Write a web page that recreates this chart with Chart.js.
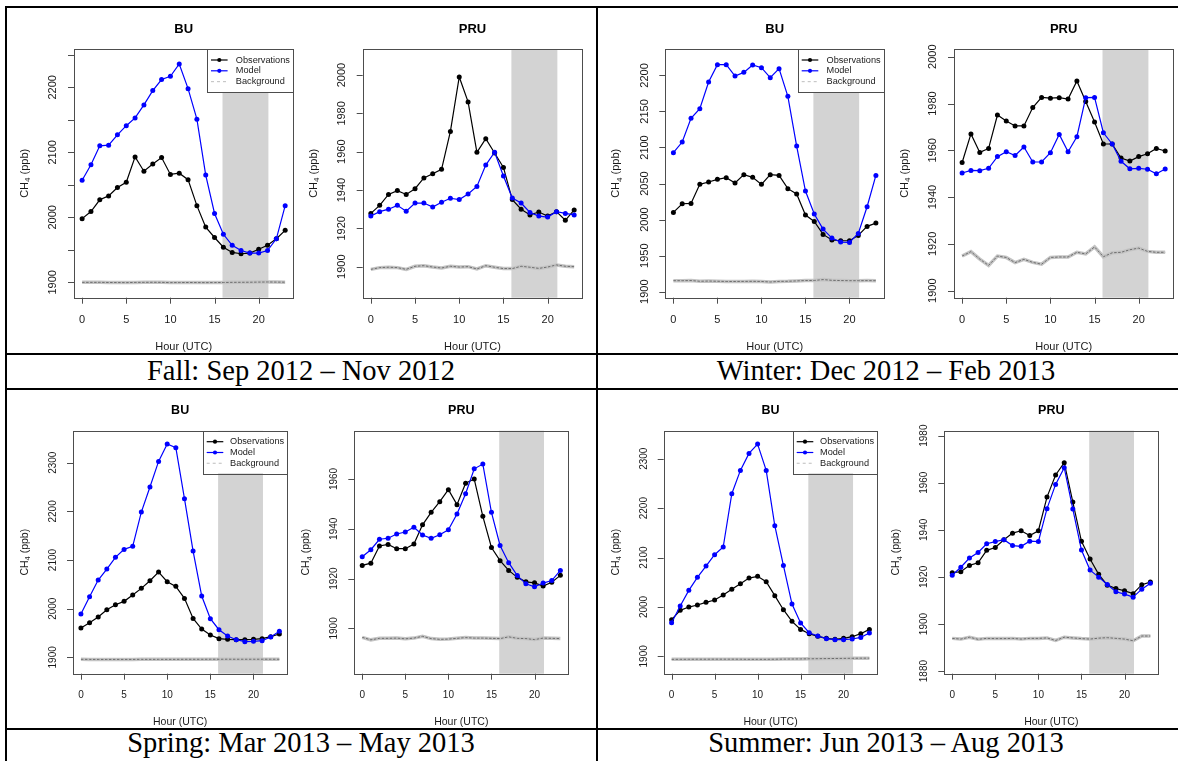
<!DOCTYPE html>
<html>
<head>
<meta charset="utf-8">
<title>CH4 diurnal cycles at BU and PRU by season</title>
<script src="https://cdn.jsdelivr.net/npm/chart.js@4.4.1/dist/chart.umd.min.js"></script>
<style>
  body { margin: 0; background: #fff; }
  #figure { position: relative; width: 1178px; height: 761px; overflow: hidden; background: #fff; }
  .rule { position: absolute; background: #000; }
  .caption {
    position: absolute;
    font-family: 'Liberation Serif', 'Times New Roman', serif;
    font-size: 28.5px; line-height: 28.5px;
    text-align: center; color: #000; white-space: nowrap;
  }
  canvas { position: absolute; }
</style>
</head>
<body>
<div id="figure">
  <div class="rule" style="left:5px; top:6px; width:1174px; height:2px;"></div>
  <div class="rule" style="left:5px; top:6px; width:2px; height:760px;"></div>
  <div class="rule" style="left:596px; top:6px; width:2px; height:760px;"></div>
  <div class="rule" style="left:5px; top:353px; width:1174px; height:2px;"></div>
  <div class="rule" style="left:5px; top:388px; width:1174px; height:2px;"></div>
  <div class="rule" style="left:5px; top:728px; width:1174px; height:2px;"></div>

  <div class="caption" style="left:6px; top:356.6px; width:590px;">Fall: Sep 2012 – Nov 2012</div>
  <div class="caption" style="left:597px; top:356.6px; width:578px;">Winter: Dec 2012 – Feb 2013</div>
  <div class="caption" style="left:6px; top:729.4px; width:590px;">Spring: Mar 2013 – May 2013</div>
  <div class="caption" style="left:597px; top:729.4px; width:578px;">Summer: Jun 2013 – Aug 2013</div>
</div>

<script>
// ---- Data (CH4, ppb) ----
var HOURS = [0, 1, 2, 3, 4, 5, 6, 7, 8, 9, 10, 11, 12, 13, 14, 15, 16, 17, 18, 19, 20, 21, 22, 23];
var X_RANGE = [-0.92, 23.92];
var X_TICKS = [0, 5, 10, 15, 20];
var NIGHT_SHADE = [15.9, 21.1];
var LEGEND_LABELS = ['Observations', 'Model', 'Background'];
var X_TITLE = 'Hour (UTC)';

var FALL_BU_OBS = [1998, 2009, 2027, 2033, 2046, 2054, 2093, 2071, 2082, 2092, 2066, 2068, 2058, 2018, 1985, 1969, 1954, 1946, 1944, 1945, 1951, 1957, 1967, 1980];
var FALL_BU_MODEL = [2057, 2081, 2110, 2111, 2127, 2141, 2153, 2173, 2195, 2212, 2217, 2236, 2198, 2151, 2065, 2006, 1974, 1957, 1949, 1945, 1945, 1949, 1967, 2018];
var FALL_BU_BG = [1900, 1900, 1900, 1899.8, 1899.7, 1899.6, 1899.9, 1900, 1900.1, 1900, 1899.6, 1899.7, 1899.8, 1899.7, 1899.6, 1899.7, 1899.8, 1900, 1900.1, 1900.2, 1900.4, 1900.6, 1900.4, 1900.3];
var FALL_BU_Y_RANGE = [1876.4, 2259];
var FALL_BU_Y_TICKS = [1900, 1950, 2000, 2050, 2100, 2150, 2200, 2250];
var FALL_BU_Y_LABELS = ['1900', '', '2000', '', '2100', '', '2200', ''];

var FALL_PRU_OBS = [1927.8, 1932, 1937.7, 1939.7, 1937.7, 1940.7, 1946.3, 1948.5, 1950.8, 1970.6, 1999, 1986, 1959.7, 1966.8, 1959.3, 1951.8, 1935, 1930, 1927, 1928.5, 1926.4, 1928.7, 1924.2, 1929.6];
var FALL_PRU_MODEL = [1926.4, 1928.7, 1930, 1932, 1928.9, 1933.2, 1933.2, 1931.1, 1933.6, 1935.7, 1935, 1937.9, 1941.9, 1953, 1959.7, 1947.3, 1935.8, 1933.2, 1928.3, 1926.4, 1925.9, 1928.7, 1927.8, 1927];
var FALL_PRU_BG = [1898.6, 1899.5, 1899.7, 1899.5, 1898.6, 1900.2, 1900.5, 1899.8, 1899.3, 1900.2, 1899.8, 1900, 1898.8, 1900.5, 1899.7, 1899, 1899, 1900.2, 1899.7, 1899.1, 1899.8, 1900.9, 1900.2, 1900];
var FALL_PRU_Y_RANGE = [1883.8, 2013.6];
var FALL_PRU_Y_TICKS = [1900, 1920, 1940, 1960, 1980, 2000];

var WINTER_BU_OBS = [2010, 2022, 2022.5, 2048.9, 2052.1, 2055.8, 2058.1, 2050.7, 2062.3, 2058.6, 2048.9, 2062.3, 2061.3, 2042.9, 2035.5, 2006.3, 1997.5, 1979.5, 1971.7, 1970.7, 1970.7, 1978.1, 1990.6, 1995.2];
var WINTER_BU_MODEL = [2092.8, 2107.6, 2140.4, 2153.8, 2190.8, 2214.8, 2214.8, 2199.1, 2204.2, 2214.4, 2210.7, 2196.8, 2209.3, 2170.9, 2102, 2039.6, 2007.7, 1986.9, 1974.4, 1968.9, 1968.4, 1980.9, 2017.9, 2061.3];
var WINTER_BU_BG = [1915.3, 1915.3, 1915.5, 1914.5, 1914.8, 1914.5, 1914.2, 1914.2, 1914.3, 1914.4, 1914.2, 1913.5, 1914.3, 1914.5, 1915, 1915.5, 1915.6, 1916.8, 1915.8, 1915.5, 1915.3, 1915.3, 1915.4, 1915.3];
var WINTER_BU_Y_RANGE = [1891.7, 2236.6];
var WINTER_BU_Y_TICKS = [1900, 1950, 2000, 2050, 2100, 2150, 2200];

var WINTER_PRU_OBS = [1954.8, 1967, 1959.1, 1960.8, 1975.1, 1972.5, 1970.4, 1970.4, 1978.3, 1982.6, 1982.3, 1982.5, 1981.9, 1989.6, 1980.9, 1972.1, 1962.7, 1962.7, 1956.7, 1955.4, 1957.3, 1958.5, 1960.8, 1959.7];
var WINTER_PRU_MODEL = [1950.3, 1951.4, 1951.3, 1952.3, 1957.3, 1959.4, 1957.8, 1961.4, 1955, 1955, 1959, 1966.8, 1959.4, 1965.8, 1982.5, 1982.6, 1967.5, 1962.7, 1955.3, 1952.1, 1952.3, 1951.9, 1950, 1952];
var WINTER_PRU_BG = [1914.8, 1916.7, 1913.5, 1910.8, 1914.8, 1914.2, 1912, 1913.4, 1912.1, 1911.3, 1914.2, 1914.4, 1914.4, 1916.4, 1915.7, 1918.7, 1914.5, 1916.2, 1916.4, 1917.5, 1918.2, 1916.8, 1916.4, 1916.4];
var WINTER_PRU_Y_RANGE = [1897, 2003.3];
var WINTER_PRU_Y_TICKS = [1900, 1920, 1940, 1960, 1980, 2000];

var SPRING_BU_OBS = [1960.3, 1971.2, 1982.9, 1997.9, 2008.2, 2015.1, 2028.1, 2041.8, 2057.5, 2075.3, 2055.5, 2045.9, 2021.2, 1980.1, 1958.2, 1945.9, 1938.4, 1937, 1936.3, 1936.3, 1937, 1938.4, 1942.5, 1947.9];
var SPRING_BU_MODEL = [1989, 2024.7, 2058.9, 2081.5, 2105.5, 2121.9, 2128.1, 2198.6, 2250, 2302.7, 2338.4, 2330.8, 2226, 2118.5, 2026, 1979.5, 1956.8, 1943.8, 1936.3, 1932.2, 1932.9, 1934.2, 1941.8, 1953.4];
var SPRING_BU_BG = [1896, 1895.8, 1895.7, 1895.7, 1895.8, 1895.8, 1895.8, 1895.9, 1895.9, 1895.9, 1895.9, 1895.9, 1896, 1896, 1896, 1896.1, 1896.1, 1896.2, 1896.1, 1896.1, 1896.1, 1896.2, 1896.1, 1896.1];
var SPRING_BU_Y_RANGE = [1866.4, 2365.8];
var SPRING_BU_Y_TICKS = [1900, 2000, 2100, 2200, 2300];

var SPRING_PRU_OBS = [1925.3, 1926.2, 1933.1, 1933.7, 1932, 1932, 1933.9, 1941.6, 1946.6, 1950.9, 1955.7, 1949.7, 1958.3, 1960, 1945, 1932.5, 1927.2, 1923.3, 1920.5, 1918.7, 1918.3, 1917, 1918.5, 1921.3];
var SPRING_PRU_MODEL = [1928.8, 1931.6, 1935.8, 1936.2, 1937.9, 1938.7, 1940.6, 1937.5, 1936.2, 1937.6, 1939.6, 1945.9, 1954.1, 1964.1, 1966, 1946.6, 1933.3, 1926.4, 1921.2, 1917.9, 1916.7, 1918.2, 1919.2, 1923.3];
var SPRING_PRU_BG = [1896.4, 1895.4, 1896, 1896, 1896.1, 1895.8, 1896.1, 1896.8, 1895.9, 1895.6, 1895.7, 1896, 1896.3, 1896.1, 1896.1, 1896, 1895.9, 1896.6, 1896, 1895.9, 1895.5, 1896.1, 1896, 1895.9];
var SPRING_PRU_Y_RANGE = [1881.8, 1979.4];
var SPRING_PRU_Y_TICKS = [1900, 1920, 1940, 1960];

var SUMMER_BU_OBS = [1974.2, 1993.1, 1999.8, 2003.9, 2009.3, 2014, 2024.1, 2035.6, 2047.1, 2058.5, 2061.9, 2051.1, 2022.8, 1994.4, 1970.8, 1954.6, 1945.9, 1940.5, 1936.4, 1934.4, 1936.4, 1939.8, 1945.9, 1954.6];
var SUMMER_BU_MODEL = [1968.1, 2001.9, 2033.6, 2059.9, 2082.8, 2105.7, 2121.2, 2229.2, 2276.4, 2310.8, 2329.7, 2276.4, 2164.4, 2084.1, 2005.9, 1967.5, 1947.9, 1941.1, 1935.8, 1933.7, 1933.7, 1935.1, 1938.4, 1947.2];
var SUMMER_BU_BG = [1894, 1894, 1894.1, 1894.2, 1894.2, 1894.3, 1894.3, 1894.3, 1894.2, 1894, 1894, 1894, 1894.2, 1894.4, 1894.6, 1894.8, 1895, 1895.3, 1895.5, 1895.7, 1895.9, 1896.1, 1896.3, 1896.4];
var SUMMER_BU_Y_RANGE = [1864.9, 2356.7];
var SUMMER_BU_Y_TICKS = [1900, 2000, 2100, 2200, 2300];

var SUMMER_PRU_OBS = [1921.8, 1922.2, 1924.9, 1926, 1931.3, 1932.5, 1935.8, 1938.6, 1939.6, 1937.6, 1939.6, 1953.9, 1963.3, 1968.5, 1951.8, 1935.1, 1927.6, 1921.1, 1916.5, 1915.1, 1914.1, 1912.9, 1916.7, 1917.8];
var SUMMER_PRU_MODEL = [1920.7, 1924.1, 1928, 1930.4, 1934.1, 1935, 1935.8, 1933.3, 1933, 1935.2, 1935, 1949, 1959.3, 1966.4, 1948.8, 1931.4, 1922.9, 1919.9, 1916.8, 1913.7, 1912.7, 1911.4, 1914.8, 1917.3];
var SUMMER_PRU_BG = [1893.9, 1893.6, 1894.4, 1893.5, 1893.9, 1893.8, 1893.8, 1893.9, 1893.6, 1893.9, 1893.9, 1894.1, 1893, 1894.4, 1894.1, 1893.8, 1893.6, 1894, 1894.2, 1893.9, 1893.6, 1892.9, 1894.9, 1894.9];
var SUMMER_PRU_Y_RANGE = [1878.9, 1982.1];
var SUMMER_PRU_Y_TICKS = [1880, 1900, 1920, 1940, 1960, 1980];

// ---- Layout ----
var FONT = "'Liberation Sans', Arial, Helvetica, sans-serif";
var OBS_COLOR = '#000000';
var MODEL_COLOR = '#0000ff';
var BG_LEGEND_COLOR = '#c8c8c8';

// canvas: [left, top, width, height], box: [left, top, right, bottom] in page px
var PANELS = [
  { site: 'BU',  obs: FALL_BU_OBS, model: FALL_BU_MODEL, bg: FALL_BU_BG, yRange: FALL_BU_Y_RANGE, yTicks: FALL_BU_Y_TICKS, yLabels: FALL_BU_Y_LABELS, row: 0, legend: true,
    canvas: [7, 9, 293, 344], box: [74, 49, 293.3, 297.7] },
  { site: 'PRU', obs: FALL_PRU_OBS, model: FALL_PRU_MODEL, bg: FALL_PRU_BG, yRange: FALL_PRU_Y_RANGE, yTicks: FALL_PRU_Y_TICKS, row: 0,
    canvas: [300, 9, 295, 344], box: [362.7, 49, 582.3, 297.7] },
  { site: 'BU',  obs: WINTER_BU_OBS, model: WINTER_BU_MODEL, bg: WINTER_BU_BG, yRange: WINTER_BU_Y_RANGE, yTicks: WINTER_BU_Y_TICKS, row: 0, legend: true,
    canvas: [598, 9, 290, 344], box: [665.3, 49, 884.7, 297.7] },
  { site: 'PRU', obs: WINTER_PRU_OBS, model: WINTER_PRU_MODEL, bg: WINTER_PRU_BG, yRange: WINTER_PRU_Y_RANGE, yTicks: WINTER_PRU_Y_TICKS, row: 0,
    canvas: [888, 9, 290, 344], box: [954, 49, 1173.3, 297.7] },
  { site: 'BU',  obs: SPRING_BU_OBS, model: SPRING_BU_MODEL, bg: SPRING_BU_BG, yRange: SPRING_BU_Y_RANGE, yTicks: SPRING_BU_Y_TICKS, row: 1, legend: true,
    canvas: [7, 391, 293, 337], box: [73, 430.7, 287.3, 673.7] },
  { site: 'PRU', obs: SPRING_PRU_OBS, model: SPRING_PRU_MODEL, bg: SPRING_PRU_BG, yRange: SPRING_PRU_Y_RANGE, yTicks: SPRING_PRU_Y_TICKS, row: 1,
    canvas: [300, 391, 295, 337], box: [354.3, 430.7, 568.3, 673.7] },
  { site: 'BU',  obs: SUMMER_BU_OBS, model: SUMMER_BU_MODEL, bg: SUMMER_BU_BG, yRange: SUMMER_BU_Y_RANGE, yTicks: SUMMER_BU_Y_TICKS, row: 1, legend: true,
    canvas: [598, 391, 290, 337], box: [663.7, 430.7, 877.3, 673.7] },
  { site: 'PRU', obs: SUMMER_PRU_OBS, model: SUMMER_PRU_MODEL, bg: SUMMER_PRU_BG, yRange: SUMMER_PRU_Y_RANGE, yTicks: SUMMER_PRU_Y_TICKS, row: 1,
    canvas: [888, 391, 290, 337], box: [944.3, 430.7, 1158.3, 673.7] }
];

var ROW_STYLE = [
  { tickFont: 11, titleFont: 11, mainFont: 13, main: 20, yLab: 20.7, xLab: 22.3, xTitle: 49, yTitle: 49, legendW: 86, legendH: 43, legendText: 28.5 },
  { tickFont: 10, titleFont: 10.5, mainFont: 12.5, main: 20, yLab: 19.7, xLab: 21.3, xTitle: 48, yTitle: 48, legendW: 84.3, legendH: 42.6, legendText: 27 }
];

(function() {
  'use strict';

  function points(values) {
    return HOURS.map(function(h, i) { return { x: h, y: values[i] }; });
  }

  // ---- R-like frame: box, ticks, labels, titles ----
  function drawFrame(chart, p, st) {
    var ctx = chart.ctx, a = chart.chartArea;
    var xs = chart.scales.x, ys = chart.scales.y;
    var cx = (a.left + a.right) / 2;

    ctx.save();
    ctx.strokeStyle = '#4d4d4d';
    ctx.lineWidth = 1;
    ctx.strokeRect(Math.round(a.left) + 0.5, Math.round(a.top) + 0.5,
      Math.round(a.right) - Math.round(a.left), Math.round(a.bottom) - Math.round(a.top));

    ctx.beginPath();
    X_TICKS.forEach(function(t) {
      var x = Math.round(xs.getPixelForValue(t)) + 0.5;
      ctx.moveTo(x, a.bottom);
      ctx.lineTo(x, a.bottom + 6);
    });
    p.yTicks.forEach(function(t) {
      var y = Math.round(ys.getPixelForValue(t)) + 0.5;
      ctx.moveTo(a.left, y);
      ctx.lineTo(a.left - 6, y);
    });
    ctx.stroke();

    ctx.fillStyle = '#1a1a1a';
    ctx.textAlign = 'center';
    ctx.textBaseline = 'middle';
    ctx.font = st.tickFont + 'px ' + FONT;
    X_TICKS.forEach(function(t) {
      ctx.fillText(String(t), xs.getPixelForValue(t), a.bottom + st.xLab);
    });
    p.yTicks.forEach(function(t, i) {
      var lab = p.yLabels ? p.yLabels[i] : String(t);
      if (!lab) return;
      ctx.save();
      ctx.translate(a.left - st.yLab, ys.getPixelForValue(t));
      ctx.rotate(-Math.PI / 2);
      ctx.fillText(lab, 0, 0);
      ctx.restore();
    });

    ctx.fillStyle = '#000';
    ctx.font = 'bold ' + st.mainFont + 'px ' + FONT;
    ctx.fillText(p.site, cx, a.top - st.main);

    ctx.fillStyle = '#1a1a1a';
    ctx.font = st.titleFont + 'px ' + FONT;
    ctx.fillText(X_TITLE, cx, a.bottom + st.xTitle);

    // CH4 (ppb) with subscript, rotated
    var fs = st.titleFont, sub = fs * 0.72;
    ctx.save();
    ctx.translate(a.left - st.yTitle, (a.top + a.bottom) / 2);
    ctx.rotate(-Math.PI / 2);
    ctx.textAlign = 'left';
    ctx.font = fs + 'px ' + FONT;
    var w1 = ctx.measureText('CH').width, w3 = ctx.measureText(' (ppb)').width;
    ctx.font = sub + 'px ' + FONT;
    var w2 = ctx.measureText('4').width;
    var x0 = -(w1 + w2 + w3) / 2;
    ctx.font = fs + 'px ' + FONT;
    ctx.fillText('CH', x0, 0);
    ctx.fillText(' (ppb)', x0 + w1 + w2, 0);
    ctx.font = sub + 'px ' + FONT;
    ctx.fillText('4', x0 + w1, fs * 0.3);
    ctx.restore();

    ctx.restore();
  }

  // ---- Legend box in the top-right corner ----
  function drawLegend(ctx, a, st) {
    var w = st.legendW, h = st.legendH;
    var x0 = a.right - w, y0 = a.top;
    ctx.save();
    ctx.fillStyle = '#fff';
    ctx.fillRect(x0, y0, w, h);
    ctx.strokeStyle = '#4d4d4d';
    ctx.lineWidth = 1;
    ctx.strokeRect(Math.round(x0) + 0.5, Math.round(y0) + 0.5, Math.round(a.right) - Math.round(x0), Math.round(h));

    ctx.font = '9.2px ' + FONT;
    ctx.textAlign = 'left';
    ctx.textBaseline = 'middle';
    var colors = [OBS_COLOR, MODEL_COLOR, BG_LEGEND_COLOR];
    LEGEND_LABELS.forEach(function(label, i) {
      var y = y0 + 11 + i * 10.8;
      ctx.strokeStyle = colors[i];
      ctx.lineWidth = 1.2;
      ctx.setLineDash(i === 2 ? [3, 3] : []);
      ctx.beginPath();
      ctx.moveTo(x0 + 3.7, y);
      ctx.lineTo(x0 + 20.3, y);
      ctx.stroke();
      ctx.setLineDash([]);
      if (i < 2) {
        ctx.fillStyle = colors[i];
        ctx.beginPath();
        ctx.arc(x0 + 12, y, 2.1, 0, Math.PI * 2);
        ctx.fill();
      }
      ctx.fillStyle = '#1a1a1a';
      ctx.fillText(label, x0 + st.legendText, y);
    });
    ctx.restore();
  }

  function rStyle(p, st) {
    return {
      id: 'rStyle',
      beforeDatasetsDraw: function(chart) {
        var ctx = chart.ctx, a = chart.chartArea, xs = chart.scales.x;
        var x0 = xs.getPixelForValue(NIGHT_SHADE[0]), x1 = xs.getPixelForValue(NIGHT_SHADE[1]);
        ctx.save();
        ctx.fillStyle = '#d3d3d3';
        ctx.fillRect(x0, a.top, x1 - x0, a.bottom - a.top);
        ctx.restore();
      },
      afterDatasetsDraw: function(chart) {
        if (p.legend) drawLegend(chart.ctx, chart.chartArea, st);
      },
      afterDraw: function(chart) {
        drawFrame(chart, p, st);
      }
    };
  }

  function appendPanel(root, p) {
    var st = ROW_STYLE[p.row];
    var c = document.createElement('canvas');
    c.width = p.canvas[2];
    c.height = p.canvas[3];
    c.style.left = p.canvas[0] + 'px';
    c.style.top = p.canvas[1] + 'px';
    root.appendChild(c);

    var pad = {
      left: p.box[0] - p.canvas[0],
      top: p.box[1] - p.canvas[1],
      right: p.canvas[0] + p.canvas[2] - p.box[2],
      bottom: p.canvas[1] + p.canvas[3] - p.box[3]
    };

    new Chart(c.getContext('2d'), {
      type: 'line',
      data: {
        datasets: [
          { label: 'Background', data: points(p.bg), borderColor: '#6e6e6e', borderWidth: 1, borderDash: [2.5, 1.5], pointRadius: 0 },
          { label: 'Background band', data: points(p.bg), borderColor: '#c4c4c4', borderWidth: 3.5, pointRadius: 0 },
          { label: 'Model', data: points(p.model), borderColor: MODEL_COLOR, backgroundColor: MODEL_COLOR,
            borderWidth: 1.2, pointRadius: 2.5, pointBorderWidth: 0 },
          { label: 'Observations', data: points(p.obs), borderColor: OBS_COLOR, backgroundColor: OBS_COLOR,
            borderWidth: 1.2, pointRadius: 2.5, pointBorderWidth: 0 }
        ]
      },
      options: {
        responsive: false,
        animation: false,
        devicePixelRatio: 1,
        events: [],
        layout: { padding: pad },
        plugins: { legend: { display: false }, tooltip: { enabled: false } },
        scales: {
          x: { type: 'linear', min: X_RANGE[0], max: X_RANGE[1], display: false },
          y: { type: 'linear', min: p.yRange[0], max: p.yRange[1], display: false }
        }
      },
      plugins: [rStyle(p, st)]
    });
  }

  var root = document.getElementById('figure');
  PANELS.forEach(function(p) { appendPanel(root, p); });
})();
</script>
</body>
</html>
